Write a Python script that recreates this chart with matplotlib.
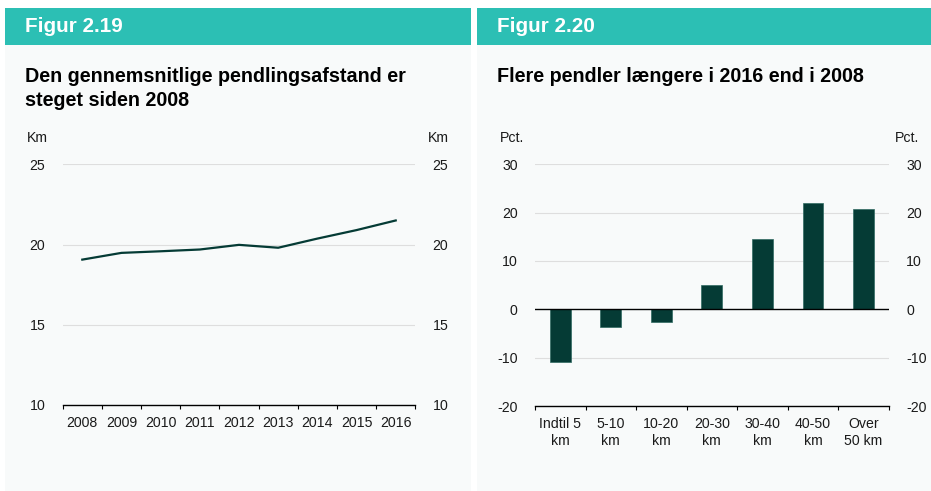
import matplotlib
matplotlib.use("Agg")
import matplotlib.pyplot as plt
from matplotlib.patches import Rectangle
import numpy as np

plt.rcParams['font.family'] = ['Liberation Sans', 'DejaVu Sans']

years = ["2008", "2009", "2010", "2011", "2012", "2013", "2014", "2015", "2016"]
distance_km = [19.06, 19.48, 19.58, 19.69, 19.98, 19.80, 20.37, 20.90, 21.50]

categories = ["Indtil 5\nkm", "5-10\nkm", "10-20\nkm", "20-30\nkm", "30-40\nkm", "40-50\nkm", "Over\n50 km"]
change_pct = [-10.8, -3.7, -2.6, 5.0, 14.5, 21.9, 20.7]

left_yticks = [10, 15, 20, 25]
right_yticks = [-20, -10, 0, 10, 20, 30]

W, H = 931, 491
fig = plt.figure(figsize=(W / 100, H / 100), dpi=100)
fig.patch.set_facecolor("white")

TEAL = "#2cbfb4"
BG = "#f8fafa"
DARK = "#053b35"
GRID = "#dedede"
TXT = "#1a1a1a"
FS = 10.2


def px_rect(x0, y0, x1, y1, color):
    fig.patches.append(Rectangle((x0 / W, 1 - y1 / H), (x1 - x0) / W, (y1 - y0) / H,
                                 transform=fig.transFigure, facecolor=color,
                                 edgecolor="none", zorder=-10))


def px_axes(x0, ytop, x1, ybot):
    ax = fig.add_axes([x0 / W, 1 - ybot / H, (x1 - x0) / W, (ybot - ytop) / H])
    ax.set_zorder(5)
    return ax


def ftext(x, y, s, **kw):
    fig.text(x / W, 1 - y / H, s, **kw)


# panels
px_rect(5, 8, 471, 491, BG)
px_rect(477, 8, 931, 491, BG)
px_rect(5, 8, 471, 45, TEAL)
px_rect(477, 8, 931, 45, TEAL)

ftext(25, 27, "Figur 2.19", color="white", fontsize=14.9, fontweight="bold", va="center")
ftext(497, 27, "Figur 2.20", color="white", fontsize=14.9, fontweight="bold", va="center")
ftext(25, 67, "Den gennemsnitlige pendlingsafstand er\nsteget siden 2008", color="black",
      fontsize=14.2, fontweight="bold", va="top", linespacing=1.32)
ftext(497, 67, "Flere pendler længere i 2016 end i 2008", color="black",
      fontsize=14.2, fontweight="bold", va="top")

ftext(27, 138, "Km", fontsize=FS, color=TXT, va="center")
ftext(449, 138, "Km", fontsize=FS, color=TXT, va="center", ha="right")
ftext(500, 138, "Pct.", fontsize=FS, color=TXT, va="center")
ftext(919, 138, "Pct.", fontsize=FS, color=TXT, va="center", ha="right")


def style_axes(ax, ncat, labels, yticks):
    ax.set_facecolor("none")
    for s in ["top", "left", "right"]:
        ax.spines[s].set_visible(False)
    ax.spines["bottom"].set_color("black")
    ax.spines["bottom"].set_linewidth(1.0)
    ax.set_xlim(-0.5, ncat - 0.5)
    ax.set_xticks(np.arange(ncat))
    ax.set_xticklabels(labels, fontsize=FS, color=TXT, linespacing=1.25)
    ax.set_xticks(np.arange(ncat + 1) - 0.5, minor=True)
    ax.tick_params(axis="x", which="major", length=0, pad=8)
    ax.tick_params(axis="x", which="minor", length=3, width=0.8, color="black", direction="out")
    ax.set_yticks(yticks)
    ax.set_yticklabels([str(v) for v in yticks])
    ax.tick_params(axis="y", which="both", left=False, right=False, labelleft=True,
                   labelright=True, labelsize=FS, labelcolor=TXT, pad=9)
    ax.set_ylim(yticks[0], yticks[-1])
    ax.grid(axis="y", color=GRID, linewidth=0.8)
    ax.set_axisbelow(True)


ax1 = px_axes(62.7, 164.3, 415.3, 405)
style_axes(ax1, len(years), years, left_yticks)
ax1.plot(np.arange(len(years)), distance_km, color=DARK, linewidth=1.6, solid_joinstyle="round")

ax2 = px_axes(535, 164.3, 888.7, 406)
style_axes(ax2, len(categories), categories, right_yticks)
ax2.bar(np.arange(len(categories)), change_pct, width=0.41, color=DARK,
        edgecolor="#2f6a61", linewidth=0.5, zorder=2)
ax2.axhline(0, color="black", linewidth=1.0, zorder=3)
ax2.yaxis.get_gridlines()[2].set_visible(False)

fig.savefig("out.png", dpi=100, facecolor="white")
